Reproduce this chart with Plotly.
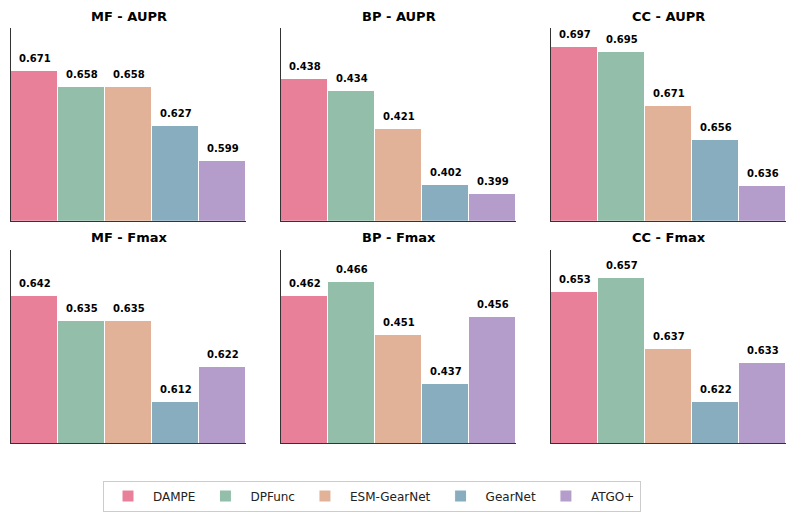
import plotly.graph_objects as go

methods = ["DAMPE", "DPFunc", "ESM-GearNet", "GearNet", "ATGO+"]
colors = ["#E8809A", "#92BEAA", "#E1B298", "#88ADBE", "#B49DCB"]

panel_titles = ["MF - AUPR", "BP - AUPR", "CC - AUPR", "MF - Fmax", "BP - Fmax", "CC - Fmax"]
mf_aupr = [0.671, 0.658, 0.658, 0.627, 0.599]
bp_aupr = [0.438, 0.434, 0.421, 0.402, 0.399]
cc_aupr = [0.697, 0.695, 0.671, 0.656, 0.636]
mf_fmax = [0.642, 0.635, 0.635, 0.612, 0.622]
bp_fmax = [0.462, 0.466, 0.451, 0.437, 0.456]
cc_fmax = [0.653, 0.657, 0.637, 0.622, 0.633]
panels = [mf_aupr, bp_aupr, cc_aupr, mf_fmax, bp_fmax, cc_fmax]

# y-axis ranges (truncated axes as in the reference)
y_ranges = [
    [0.551, 0.7055],
    [0.390, 0.4553],
    [0.6206, 0.7054],
    [0.6003, 0.655],
    [0.4202, 0.4752],
    [0.6103, 0.665],
]

W, H = 797, 518
col_px = [(11, 246), (281, 516), (551, 786)]
row_px = [(28, 220.7), (250, 443.3)]
title_px = [16.2, 238]

fig = go.Figure()
annotations = []
layout_axes = {}

for i, vals in enumerate(panels):
    r, c = divmod(i, 3)
    n = i + 1
    xa = "x" if n == 1 else f"x{n}"
    ya = "y" if n == 1 else f"y{n}"
    for j, m in enumerate(methods):
        fig.add_trace(go.Bar(
            x=[j], y=[vals[j]], name=m,
            marker=dict(color=colors[j], line=dict(color="white", width=1)),
            width=1.0,
            xaxis=xa, yaxis=ya,
            showlegend=(i == 0),
            legendgroup=m,
            hoverinfo="skip",
        ))
        annotations.append(dict(
            x=j, y=vals[j], xref=xa, yref=ya,
            text=f"<b>{vals[j]:.3f}</b>",
            showarrow=False, yanchor="bottom", xanchor="center",
            yshift=5,
            font=dict(family="DejaVu Sans", size=10, color="black"),
        ))
    x0, x1 = col_px[c]
    y0, y1 = row_px[r]
    xkey = "xaxis" if n == 1 else f"xaxis{n}"
    ykey = "yaxis" if n == 1 else f"yaxis{n}"
    layout_axes[xkey] = dict(
        domain=[x0 / W, x1 / W], range=[-0.5, 4.5],
        showticklabels=False, ticks="", showgrid=False, zeroline=False,
        showline=True, linecolor="#333333", linewidth=1,
        anchor=ya, fixedrange=True,
    )
    layout_axes[ykey] = dict(
        domain=[1 - y1 / H, 1 - y0 / H], range=y_ranges[i],
        showticklabels=False, ticks="", showgrid=False, zeroline=False,
        showline=True, linecolor="#333333", linewidth=1,
        anchor=xa, fixedrange=True,
    )
    annotations.append(dict(
        x=(x0 + x1) / 2 / W, y=1 - title_px[r] / H, xref="paper", yref="paper",
        text=f"<b>{panel_titles[i]}</b>", showarrow=False,
        xanchor="center", yanchor="middle",
        font=dict(family="DejaVu Sans", size=13, color="black"),
    ))

fig.update_layout(
    width=W, height=H,
    margin=dict(l=0, r=0, t=0, b=0),
    plot_bgcolor="white", paper_bgcolor="white",
    barmode="overlay", bargap=0,
    font=dict(family="DejaVu Sans", size=12, color="#222222"),
    annotations=annotations,
    legend=dict(
        orientation="h", x=372 / W, y=1 - 496 / H,
        xanchor="center", yanchor="middle",
        bordercolor="#CCCCCC", borderwidth=1,
        font=dict(family="DejaVu Sans", size=12, color="#222222"),
        itemwidth=40,
    ),
    **layout_axes,
)

fig.write_html("out.html", config={"displayModeBar": False},
               post_script="document.body.style.margin='0';")
